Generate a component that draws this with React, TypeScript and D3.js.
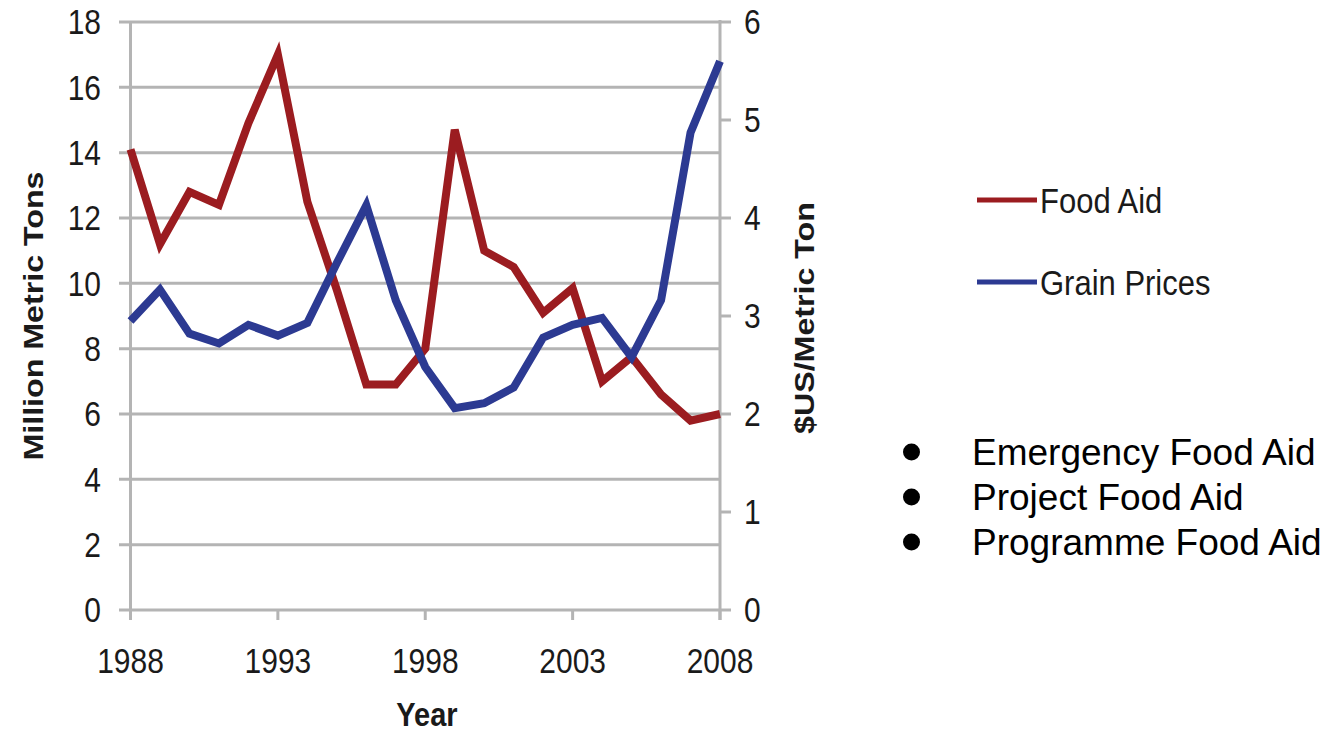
import React from "react";
import * as d3 from "d3";

const years = [1988, 1989, 1990, 1991, 1992, 1993, 1994, 1995, 1996, 1997, 1998, 1999, 2000, 2001, 2002, 2003, 2004, 2005, 2006, 2007, 2008];
const foodAid = [14.1, 11.2, 12.8, 12.4, 14.9, 17.0, 12.5, 9.8, 6.9, 6.9, 8.0, 14.7, 11.0, 10.5, 9.1, 9.85, 7.0, 7.75, 6.6, 5.8, 6.0];
const grainPrices = [2.95, 3.27, 2.82, 2.72, 2.91, 2.8, 2.93, 3.54, 4.13, 3.16, 2.48, 2.06, 2.11, 2.27, 2.78, 2.91, 2.98, 2.58, 3.16, 4.87, 5.6];
const leftTicks = [0, 2, 4, 6, 8, 10, 12, 14, 16, 18];
const rightTicks = [0, 1, 2, 3, 4, 5, 6];
const xTicks = [1988, 1993, 1998, 2003, 2008];
const legendItems = [
  { label: "Food Aid", color: "#9b1c20" },
  { label: "Grain Prices", color: "#2c3a92" },
];
const bullets = ["Emergency Food Aid", "Project Food Aid", "Programme Food Aid"];

const FONT = "'Liberation Sans', Arial, sans-serif";
const GRID = "#b4b4b4";
const STRETCH = 1.15;

export default function App() {
  const x = d3.scaleLinear().domain([1988, 2008]).range([130.5, 720]);
  const yL = d3.scaleLinear().domain([0, 18]).range([610, 22]);
  const yR = d3.scaleLinear().domain([0, 6]).range([610, 22]);

  const lineL = d3
    .line<number>()
    .x((_, i) => x(years[i]))
    .y((d) => yL(d));
  const lineR = d3
    .line<number>()
    .x((_, i) => x(years[i]))
    .y((d) => yR(d));

  const stext = (
    key: string,
    tx: number,
    ty: number,
    s: string,
    anchor: "start" | "middle" | "end",
    size: number,
    bold = false
  ) => (
    <text
      key={key}
      transform={`translate(${tx},${ty}) scale(1,${STRETCH})`}
      textAnchor={anchor}
      dy="0.36em"
      fontFamily={FONT}
      fontSize={size}
      fontWeight={bold ? "bold" : "normal"}
      fill="#1a1a1a"
    >
      {s}
    </text>
  );

  return (
    <svg
      width={1328}
      height={733}
      style={{ position: "absolute", left: 0, top: 0, background: "#fff" }}
    >
      {/* horizontal gridlines */}
      {leftTicks.map((t) => (
        <line
          key={"g" + t}
          x1={119}
          x2={720}
          y1={yL(t)}
          y2={yL(t)}
          stroke={GRID}
          strokeWidth={3}
        />
      ))}
      {/* left axis */}
      <line x1={130.5} x2={130.5} y1={22} y2={620} stroke={GRID} strokeWidth={3} />
      {/* right axis */}
      <line x1={720} x2={720} y1={20} y2={620} stroke={GRID} strokeWidth={3} />
      {rightTicks.map((t) => (
        <line
          key={"rt" + t}
          x1={720}
          x2={731}
          y1={yR(t)}
          y2={yR(t)}
          stroke={GRID}
          strokeWidth={3}
        />
      ))}
      {/* x ticks */}
      {xTicks.map((t) => (
        <line
          key={"xt" + t}
          x1={x(t)}
          x2={x(t)}
          y1={610}
          y2={620}
          stroke={GRID}
          strokeWidth={3}
        />
      ))}

      {/* data lines */}
      <path
        d={lineL(foodAid) || ""}
        fill="none"
        stroke="#9b1c20"
        strokeWidth={8}
        strokeLinejoin="miter"
      />
      <path
        d={lineR(grainPrices) || ""}
        fill="none"
        stroke="#2c3a92"
        strokeWidth={8}
        strokeLinejoin="miter"
      />

      {/* left tick labels */}
      {leftTicks.map((t) => stext("ll" + t, 101, yL(t), String(t), "end", 30))}
      {/* right tick labels */}
      {rightTicks.map((t) => stext("rl" + t, 744, yR(t), String(t), "start", 30))}
      {/* x tick labels */}
      {xTicks.map((t) => stext("xl" + t, x(t), 661, String(t), "middle", 30))}

      {/* axis titles */}
      <text
        transform={`translate(33,316) rotate(-90) scale(${STRETCH},1)`}
        textAnchor="middle"
        dy="0.36em"
        fontFamily={FONT}
        fontSize={28}
        fontWeight="bold"
        fill="#1a1a1a"
      >
        Million Metric Tons
      </text>
      <text
        transform={`translate(804,318) rotate(-90) scale(${STRETCH},1)`}
        textAnchor="middle"
        dy="0.36em"
        fontFamily={FONT}
        fontSize={28}
        fontWeight="bold"
        fill="#1a1a1a"
      >
        $US/Metric Ton
      </text>
      {stext("year", 427, 714, "Year", "middle", 29, true)}

      {/* legend */}
      {legendItems.map((it, i) => (
        <g key={"lg" + i}>
          <line
            x1={977}
            x2={1037}
            y1={200 + i * 82}
            y2={200 + i * 82}
            stroke={it.color}
            strokeWidth={5}
          />
          {stext("lt" + i, 1040, 200 + i * 82, it.label, "start", 31)}
        </g>
      ))}

      {/* bullet list */}
      {bullets.map((b, i) => (
        <g key={"b" + i}>
          <circle cx={911.5} cy={452 + i * 45} r={8.5} fill="#000" />
          <text
            x={972}
            y={452 + i * 45}
            dy="0.36em"
            fontFamily={FONT}
            fontSize={37}
            fill="#000"
          >
            {b}
          </text>
        </g>
      ))}
    </svg>
  );
}
